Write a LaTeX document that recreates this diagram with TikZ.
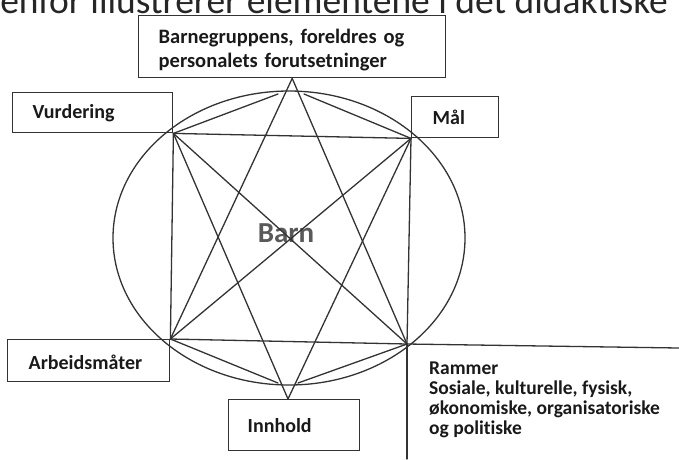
\documentclass[tikz,border=0pt]{standalone}
\usepackage{fontspec}
\setmainfont{Carlito}[Ligatures=NoCommon]
\begin{document}
\begin{tikzpicture}[x=1pt,y=-1pt,
  ln/.style={draw=black!80, line width=1.3pt, line cap=round},
  box/.style={draw=black!80, line width=1.4pt, anchor=north west, inner ysep=0pt, align=left,
    font=\bfseries\fontsize{20}{20}\selectfont, text=black!90},
  lbl/.style={inner sep=0pt, align=left, font=\bfseries\fontsize{19.5}{20}\selectfont, text=black!90}]
\useasboundingbox (0,0) rectangle (679,459);
\clip (0,0) rectangle (679,459);
% title (cut off at top)
\node[anchor=base east, inner sep=0pt, font=\fontsize{37.5}{40}\selectfont, text=black!85] (title) at (668,13)
  {nedenfor illustrerer elementene i det didaktiske};
% boxes
\node[box, minimum width=307, minimum height=62, inner xsep=20pt, text width=267pt,
  font=\bfseries\fontsize{20.5}{24}\selectfont] (top) at (138,15)
  {\rule{0pt}{21.5pt}Barnegruppens, foreldres og\\personalets forutsetninger};
\node[box, minimum width=160, minimum height=40, inner xsep=20pt, text width=120pt] (vur) at (12,92) {Vurdering};
\node[box, minimum width=87, minimum height=41, inner xsep=21pt, text width=45pt] (mal) at (411,96) {Mål};
\node[box, minimum width=162, minimum height=42, inner xsep=21pt, text width=120pt] (arb) at (7,339) {\rule{0pt}{17pt}Arbeidsmåter};
\node[box, minimum width=131, minimum height=51, inner xsep=19pt, text width=93pt] (inn) at (228,399) {Innhold};
\node[lbl, anchor=north west] (ram) at (429,361.5)
  {Rammer\\Sosiale, kulturelle, fysisk,\\økonomiske, organisatoriske\\og politiske};
\node[font=\bfseries\fontsize{29}{30}\selectfont, text=black!65, inner sep=0pt] (barn) at (286,233) {Barn};
% points
\coordinate (T) at (top.south);
\coordinate (V) at (vur.south east);
\coordinate (M) at (mal.south west);
\coordinate (A) at (arb.north east);
\coordinate (R) at (407,344);
\coordinate (B) at (288,399);
\coordinate (P1) at (278,94);
\coordinate (P2) at (304,94);
\coordinate (Q1) at (278,383);
\coordinate (Q2) at (298,383);
\coordinate (RE) at (679,348);
\coordinate (RS) at (407,459);
% ellipse
\draw[ln] (289,238) ellipse [x radius=176pt, y radius=147pt];
% connectors
\draw[ln] (V) -- (P1);
\draw[ln] (P2) -- (M);
\draw[ln] (T) -- (A);
\draw[ln] (T) -- (R);
\draw[ln] (V) -- (M);
\draw[ln] (V) -- (A);
\draw[ln] (M) -- (R);
\draw[ln] (A) -- (R);
\draw[ln] (V) -- (R);
\draw[ln] (A) -- (M);
\draw[ln] (V) -- (B);
\draw[ln] (M) -- (B);
\draw[ln] (A) -- (Q1);
\draw[ln] (Q2) -- (R);
\draw[ln] (R) -- (RE);
\draw[ln] (R) -- (RS);
\end{tikzpicture}
\end{document}
